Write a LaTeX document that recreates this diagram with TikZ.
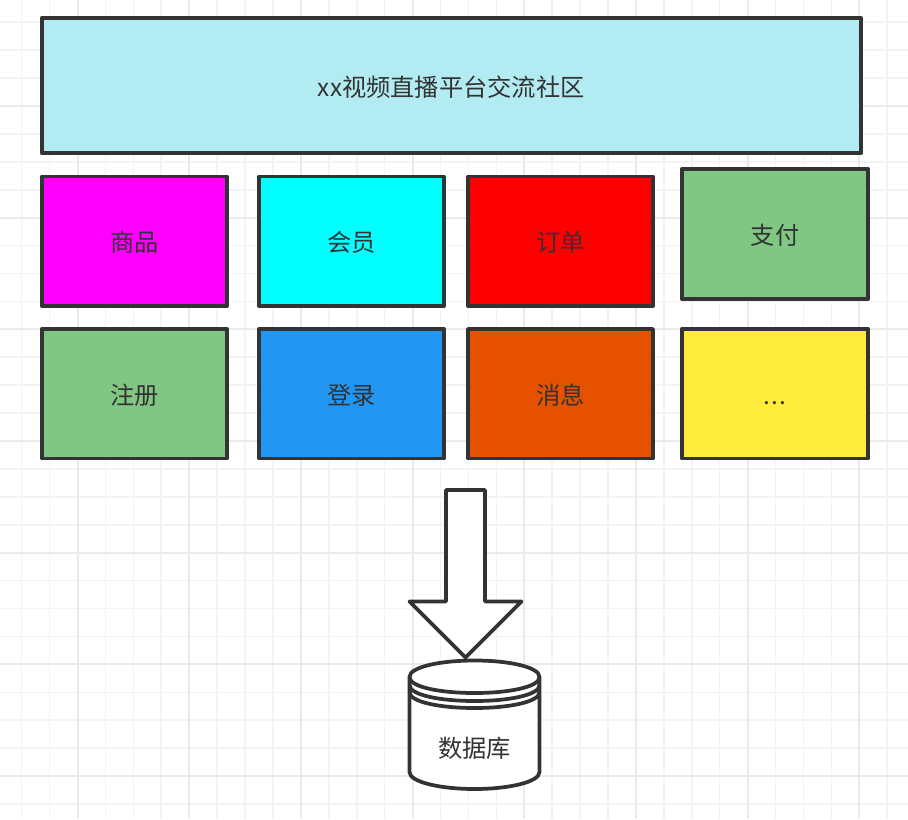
\documentclass[tikz,border=0pt]{standalone}
\usepackage{fontspec}
\setmainfont{Noto Sans CJK SC}
\definecolor{ink}{HTML}{333333}
\definecolor{gridminor}{HTML}{F3F3F3}
\definecolor{gridmajor}{HTML}{EAEAEA}
\tikzset{
  px/.style={x=0.75pt,y=-0.75pt},
  outline/.style={draw=ink,line width=2.8pt,line join=round},
  blockbox/.style={outline,rectangle,minimum width=138.75pt,minimum height=97.1pt,inner sep=0pt,text=ink,text height=18pt,text depth=2pt,font=\fontsize{18.2}{22}\selectfont},
  label/.style={text=ink,inner sep=0pt,font=\fontsize{18.2}{22}\selectfont},
  minorline/.style={draw=gridminor,line width=1.2pt},
  majorline/.style={draw=gridmajor,line width=1.5pt}
}
\begin{document}
\begin{tikzpicture}[px]
\useasboundingbox (0,0) rectangle (908,819);
\fill[white] (0,0) rectangle (908,819);
% background grid
\foreach \k in {-2,...,29}{
  \pgfmathsetmacro{\gx}{77.5+27.92*\k}
  \draw[minorline] (\gx,0) -- (\gx,819);
}
\foreach \k in {-3,...,26}{
  \pgfmathsetmacro{\gy}{106+27.92*\k}
  \draw[minorline] (0,\gy) -- (908,\gy);
}
\foreach \k in {0,...,7}{
  \pgfmathsetmacro{\gx}{77.5+111.68*\k}
  \draw[majorline] (\gx,0) -- (\gx,819);
}
\foreach \k in {0,...,6}{
  \pgfmathsetmacro{\gy}{106+111.68*\k}
  \draw[majorline] (0,\gy) -- (908,\gy);
}
% header
\node[blockbox,fill={rgb,255:red,178;green,235;blue,242},minimum width=614.25pt,minimum height=101.5pt] (top) at (451.35,85.5) {xx视频直播平台交流社区};
% first row
\node[blockbox,fill={rgb,255:red,255;green,0;blue,255}] (goods) at (134.35,241.3) {商品};
\node[blockbox,fill={rgb,255:red,0;green,255;blue,255}] (member) at (351.6,241.3) {会员};
\node[blockbox,fill={rgb,255:red,255;green,0;blue,0}] (order) at (560.5,241.3) {订单};
\node[blockbox,fill={rgb,255:red,129;green,199;blue,132},minimum width=139.9pt] (pay) at (775,234) {支付};
% second row
\node[blockbox,fill={rgb,255:red,129;green,199;blue,132}] (register) at (134.35,393.7) {注册};
\node[blockbox,fill={rgb,255:red,33;green,150;blue,243}] (login) at (351.6,393.7) {登录};
\node[blockbox,fill={rgb,255:red,230;green,81;blue,0}] (message) at (560.5,393.7) {消息};
\node[blockbox,fill={rgb,255:red,255;green,235;blue,59},minimum width=139.9pt] (more) at (775,393.7) {.\kern0.7pt.\kern0.7pt.};
% database cylinder
\draw[outline,fill=white] (409.5,677) .. controls (409.5,667) and (440,660.5) .. (474.5,660.5)
  .. controls (509,660.5) and (539.5,667) .. (539.5,677)
  -- (539.5,772) .. controls (539.5,782) and (509,789) .. (474.5,789)
  .. controls (440,789) and (409.5,782) .. (409.5,772) -- cycle;
\draw[outline] (409.5,677) .. controls (409.5,687) and (440,693) .. (474.5,693)
  .. controls (509,693) and (539.5,687) .. (539.5,677);
\draw[outline] (409.5,685) .. controls (409.5,695) and (440,701) .. (474.5,701)
  .. controls (509,701) and (539.5,695) .. (539.5,685);
\draw[outline] (409.5,692) .. controls (409.5,702) and (440,708) .. (474.5,708)
  .. controls (509,708) and (539.5,702) .. (539.5,692);
\node[label] (db) at (474.5,748) {数据库};
% block arrow
\draw[outline,fill=white] (446,490) -- (485,490) -- (485,601.5) -- (521.5,601.5) -- (465.5,657.5) -- (409.5,601.5) -- (446,601.5) -- cycle;
\end{tikzpicture}
\end{document}
